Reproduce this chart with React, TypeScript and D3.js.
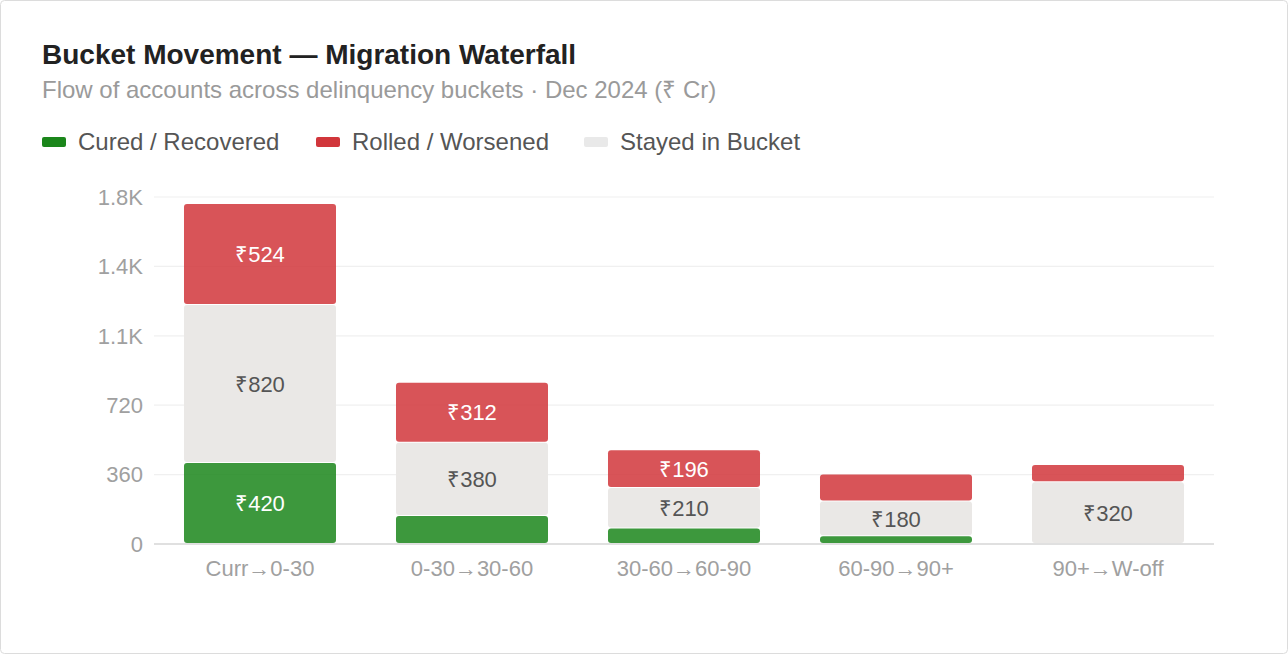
import React, { useEffect, useRef } from "react";
import * as d3 from "d3";

const categories = ["Curr→0-30", "0-30→30-60", "30-60→60-90", "60-90→90+", "90+→W-off"];
const cured = [420, 145, 80, 40, 0];
const stayed = [820, 380, 210, 180, 320];
const rolled = [524, 312, 196, 140, 90];
const yTicks = [0, 360, 720, 1080, 1440, 1800];

const W = 1288;
const H = 654;
const FONT = "'Liberation Sans', Arial, Helvetica, sans-serif";

const series = [
  { key: "cured", name: "Cured / Recovered", values: cured, legend: "#1b861b", fill: "#1b861b", text: "#fff" },
  { key: "stayed", name: "Stayed in Bucket", values: stayed, legend: "#e9e9e9", fill: "#eae8e6", text: "#555" },
  { key: "rolled", name: "Rolled / Worsened", values: rolled, legend: "#d1363b", fill: "#d1363b", text: "#fff" },
];
const legendOrder = [0, 2, 1];

export default function App() {
  const ref = useRef<SVGSVGElement>(null);

  useEffect(() => {
    document.body.style.margin = "0";
    const svg = d3.select(ref.current);
    svg.selectAll("*").remove();

    svg.append("rect")
      .attr("x", 0.5).attr("y", 0.5)
      .attr("width", W - 1).attr("height", H - 1)
      .attr("rx", 4)
      .attr("fill", "#fff").attr("stroke", "#dcdcdc");

    svg.append("text")
      .attr("x", 42).attr("y", 64)
      .attr("font-family", FONT).attr("font-size", 28).attr("font-weight", 700)
      .attr("fill", "#222")
      .text("Bucket Movement — Migration Waterfall");
    svg.append("text")
      .attr("x", 42).attr("y", 98)
      .attr("font-family", FONT).attr("font-size", 24)
      .attr("fill", "#9a9a9a")
      .text("Flow of accounts across delinquency buckets · Dec 2024 (₹ Cr)");

    // legend
    const legendX = [42, 316, 584];
    legendOrder.forEach((si, i) => {
      const s = series[si];
      const g = svg.append("g").attr("transform", `translate(${legendX[i]},142)`);
      g.append("rect").attr("x", 0).attr("y", -5).attr("width", 24).attr("height", 10)
        .attr("rx", 2).attr("fill", s.legend);
      g.append("text").attr("x", 36).attr("y", 8)
        .attr("font-family", FONT).attr("font-size", 24).attr("fill", "#555")
        .text(s.name);
    });

    const x = d3.scaleBand().domain(categories).range([154, 1214]).paddingInner(0.283).paddingOuter(0.1415);
    const y = d3.scaleLinear().domain([0, 1800]).range([544, 197]);

    const fmt = (v: number) => (v >= 1000 ? `${d3.format(".1f")(v / 1000)}K` : `${v}`);

    // grid
    svg.append("g").selectAll("line").data(yTicks).join("line")
      .attr("x1", 154).attr("x2", 1214)
      .attr("y1", (d) => y(d)).attr("y2", (d) => y(d))
      .attr("stroke", (d) => (d === 0 ? "#d6d6d6" : "#f0f0f0"))
      .attr("stroke-width", (d) => (d === 0 ? 1.5 : 1.2));

    svg.append("g").selectAll("text").data(yTicks).join("text")
      .attr("x", 143).attr("y", (d) => y(d))
      .attr("dy", "0.35em").attr("text-anchor", "end")
      .attr("font-family", FONT).attr("font-size", 22).attr("fill", "#a0a0a0")
      .text((d) => fmt(d));

    svg.append("g").selectAll("text").data(categories).join("text")
      .attr("x", (d) => x(d)! + x.bandwidth() / 2).attr("y", 576)
      .attr("text-anchor", "middle")
      .attr("font-family", FONT).attr("font-size", 22).attr("fill", "#a0a0a0")
      .text((d) => d);

    // stacked segments
    const stack = d3.stack<number>().keys(["0", "1", "2"]).value((i, k) => series[+k].values[i]);
    const stacked = stack(categories.map((_, i) => i));
    stacked.forEach((layer, si) => {
      const s = series[si];
      const g = svg.append("g");
      layer.forEach((seg, i) => {
        const v = s.values[i];
        if (!v) return;
        const y0 = y(seg[0]);
        const y1 = y(seg[1]);
        const h = y0 - y1 - 1;
        g.append("rect")
          .attr("x", x(categories[i])!).attr("y", y1)
          .attr("width", x.bandwidth()).attr("height", Math.max(h, 0))
          .attr("rx", 3)
          .attr("fill", s.fill).attr("fill-opacity", si === 1 ? 1 : 0.85);
        if (h > 30) {
          g.append("text")
            .attr("x", x(categories[i])! + x.bandwidth() / 2)
            .attr("y", (y0 + y1) / 2)
            .attr("dy", "0.35em").attr("text-anchor", "middle")
            .attr("font-family", FONT).attr("font-size", 22).attr("fill", s.text)
            .text(`₹${v}`);
        }
      });
    });
  }, []);

  return <svg ref={ref} width={W} height={H} style={{ display: "block" }} />;
}
